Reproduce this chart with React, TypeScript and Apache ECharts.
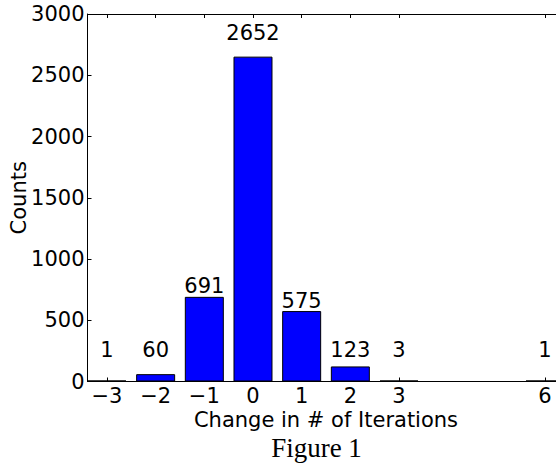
import React, { useEffect, useRef } from "react";
import * as echarts from "echarts";

const changes = [-3, -2, -1, 0, 1, 2, 3, 6];
const counts = [1, 60, 691, 2652, 575, 123, 3, 1];
const yTicks = [0, 500, 1000, 1500, 2000, 2500, 3000];
const xTitle = "Change in # of Iterations";
const yTitle = "Counts";
const caption = "Figure 1";

const FONT = "DejaVu Sans";
const FS = 21;

export default function App() {
  const ref = useRef<HTMLDivElement>(null);
  useEffect(() => {
    document.body.style.margin = "0";
    const chart = echarts.init(ref.current!, null, { renderer: "svg" });
    const fmt = (v: number) => (v < 0 ? "\u2212" + Math.abs(v) : String(v));
    const labelLevel = (v: number) => Math.max(v, 170) + (v > 1500 ? 110 : 0);
    chart.setOption({
      animation: false,
      grid: { left: 87.5, right: 0.5, top: 14, bottom: 82.5, outerBoundsMode: "none", containLabel: false },
      xAxis: [
        {
          type: "value",
          min: -3.4,
          max: 6.4,
          position: "bottom",
          name: xTitle,
          nameLocation: "middle",
          nameGap: 28,
          nameMoveOverlap: false,
          nameTextStyle: { fontFamily: FONT, fontSize: FS, color: "#000", lineHeight: 20 },
          axisLine: { show: true, onZero: false, lineStyle: { color: "#000", width: 1 } },
          axisTick: { show: true, inside: true, length: 4, customValues: changes, lineStyle: { color: "#000" } },
          axisLabel: {
            customValues: changes,
            formatter: fmt,
            fontFamily: FONT,
            fontSize: FS,
            lineHeight: 20,
            color: "#000",
            margin: 4,
          },
          splitLine: { show: false },
        },
        {
          type: "value",
          min: -3.4,
          max: 6.4,
          position: "top",
          axisLine: { show: true, onZero: false, lineStyle: { color: "#000", width: 1 } },
          axisTick: { show: true, inside: true, length: 4, customValues: changes, lineStyle: { color: "#000" } },
          axisLabel: { show: false },
          splitLine: { show: false },
        },
      ],
      yAxis: {
        type: "value",
        min: 0,
        max: 3000,
        interval: 500,
        name: yTitle,
        nameLocation: "middle",
        nameGap: 58,
        nameMoveOverlap: false,
        nameTextStyle: { fontFamily: FONT, fontSize: FS, color: "#000" },
        axisLine: { show: true, onZero: false, lineStyle: { color: "#000", width: 1 } },
        axisTick: { show: true, inside: true, length: 4, lineStyle: { color: "#000" } },
        axisLabel: {
          customValues: yTicks,
          formatter: (v: number) => String(v),
          fontFamily: FONT,
          fontSize: FS,
          color: "#000",
          margin: 3,
        },
        splitLine: { show: false },
      },
      series: [
        {
          type: "bar",
          xAxisIndex: 0,
          barWidth: 39,
          barMinHeight: 1,
          data: changes.map((c, i) => [c, counts[i]]),
          itemStyle: { color: "#0000ff", borderColor: "#000", borderWidth: 1 },
        },
        {
          type: "scatter",
          xAxisIndex: 0,
          symbolSize: 0,
          itemStyle: { opacity: 1, color: "rgba(0,0,0,0)" },
          data: changes.map((c, i) => ({ value: [c, labelLevel(counts[i])], count: counts[i] })),
          label: {
            show: true,
            position: "top",
            distance: 0,
            formatter: (p: any) => String(p.data.count),
            fontFamily: FONT,
            fontSize: FS,
            color: "#000",
            opacity: 1,
          },
          silent: true,
        },
      ],
      graphic: [
        {
          type: "text",
          x: 316.5,
          y: 448,
          style: {
            text: caption,
            fontFamily: "Liberation Serif",
            fontSize: 27,
            fill: "#000",
            textAlign: "center",
            textVerticalAlign: "middle",
          },
        },
      ],
    });
    return () => chart.dispose();
  }, []);
  return (
    <div style={{ position: "absolute", left: 0, top: 0, width: 556, height: 464, overflow: "hidden" }}>
      <div ref={ref} style={{ width: 565, height: 464 }} />
    </div>
  );
}
